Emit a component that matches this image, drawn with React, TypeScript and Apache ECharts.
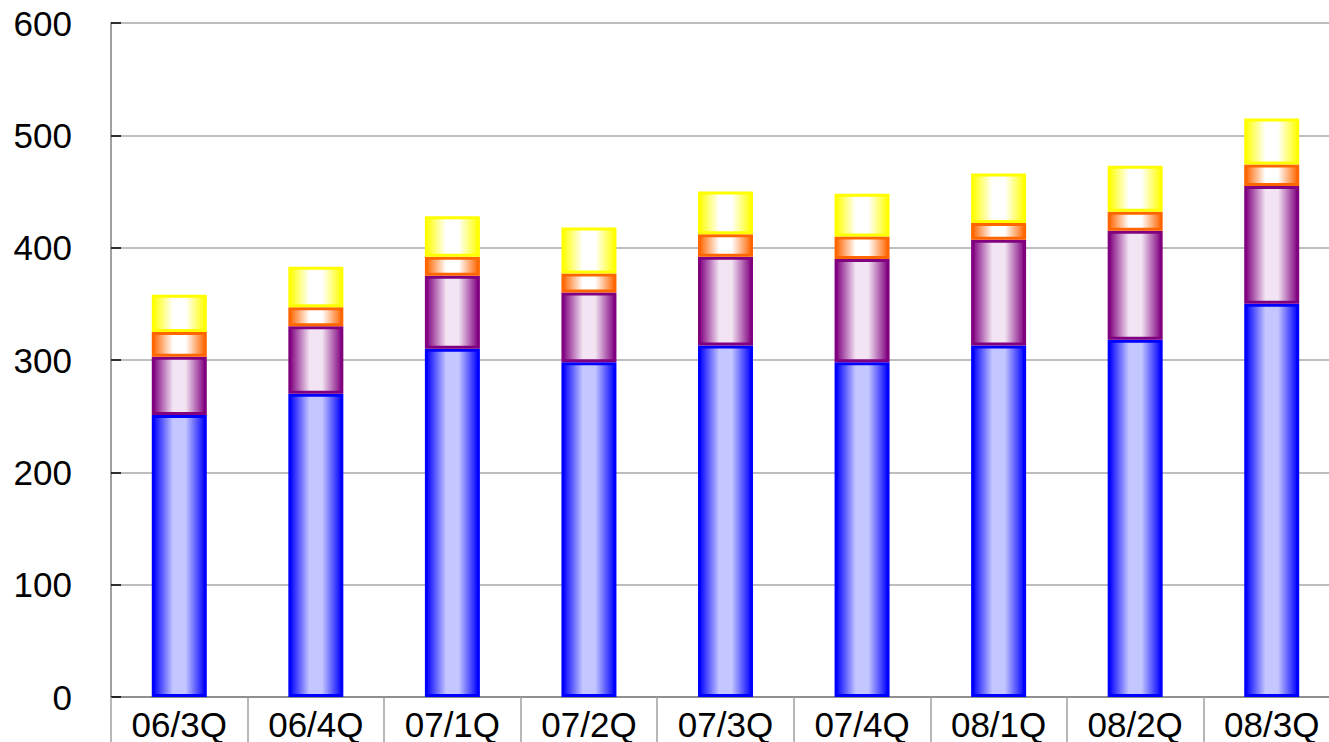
import React, { useEffect, useRef } from "react";
import * as echarts from "echarts";

// Quarter labels along the x axis
const categories = ["06/3Q", "06/4Q", "07/1Q", "07/2Q", "07/3Q", "07/4Q", "08/1Q", "08/2Q", "08/3Q"];

// Stacked segment values, bottom to top
const blueValues = [251, 270, 310, 298, 313, 298, 313, 318, 350];
const purpleValues = [52, 60, 65, 62, 79, 92, 94, 97, 105];
const orangeValues = [22, 17, 17, 17, 20, 20, 15, 17, 19];
const yellowValues = [33, 36, 36, 41, 38, 38, 44, 41, 41];

const yTicks = { min: 0, max: 600, interval: 100 };

// Horizontal "cylinder" shading: saturated edges, pale middle
function shade(edge: string, mid: string) {
  return new echarts.graphic.LinearGradient(0, 0, 1, 0, [
    { offset: 0, color: edge },
    { offset: 0.38, color: mid },
    { offset: 0.62, color: mid },
    { offset: 1, color: edge },
  ]);
}

function barSeries(name: string, data: number[], edge: string, mid: string) {
  return {
    name,
    type: "bar",
    stack: "total",
    data,
    barWidth: 55,
    itemStyle: {
      color: shade(edge, mid),
      borderColor: edge,
      borderWidth: 3,
    },
  };
}

export default function App() {
  const ref = useRef<HTMLDivElement>(null);

  useEffect(() => {
    if (!ref.current) return;
    const chart = echarts.init(ref.current, undefined, { renderer: "svg" });
    chart.setOption({
      animation: false,
      backgroundColor: "#ffffff",
      grid: { left: 111, top: 23, right: 0, bottom: 45, containLabel: false },
      xAxis: {
        type: "category",
        data: categories,
        axisLine: { show: true, lineStyle: { color: "#808080", width: 1.5 } },
        axisTick: { show: true, length: 48, lineStyle: { color: "#a0a0a0", width: 1.5 } },
        axisLabel: {
          margin: 10,
          lineHeight: 34,
          color: "#000",
          fontSize: 35,
          fontFamily: "Liberation Sans, Arial, sans-serif",
        },
        splitLine: { show: false },
      },
      yAxis: {
        type: "value",
        min: yTicks.min,
        max: yTicks.max,
        interval: yTicks.interval,
        axisLine: { show: true, lineStyle: { color: "#808080", width: 1.5 } },
        axisTick: { show: true, inside: true, length: 10, lineStyle: { color: "#000", width: 1.5 } },
        axisLabel: {
          margin: 39,
          color: "#000",
          fontSize: 35,
          fontFamily: "Liberation Sans, Arial, sans-serif",
        },
        splitLine: { show: true, lineStyle: { color: "#a8a8a8", width: 1.5 } },
      },
      series: [
        barSeries("blue", blueValues, "#0000ff", "#c4c6ff"),
        barSeries("purple", purpleValues, "#800080", "#f2e4f2"),
        barSeries("orange", orangeValues, "#ff6600", "#ffffff"),
        barSeries("yellow", yellowValues, "#ffff00", "#ffffff"),
      ],
    });
    return () => chart.dispose();
  }, []);

  // The plot area runs a little past the right edge of the visible frame
  return (
    <div
      style={{
        position: "fixed",
        left: 0,
        top: 0,
        width: 1329,
        height: 742,
        overflow: "hidden",
        background: "#fff",
      }}
    >
      <div ref={ref} style={{ width: 1340, height: 742 }} />
    </div>
  );
}
